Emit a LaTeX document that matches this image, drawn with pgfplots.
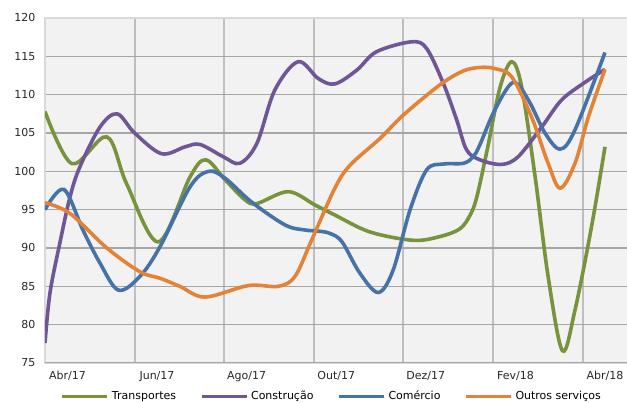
\documentclass[border=0pt]{standalone}
\usepackage{fontspec}
\setmainfont{DejaVu Sans}
\usepackage{pgfplots}
\usepackage{pgfplotstable}
\pgfplotsset{compat=1.18}

\definecolor{cTransp}{RGB}{119,147,60}
\definecolor{cConstr}{RGB}{111,86,150}
\definecolor{cComerc}{RGB}{69,114,167}
\definecolor{cOutros}{RGB}{226,131,56}
\definecolor{plotbg}{RGB}{242,242,242}
\definecolor{gridh}{RGB}{166,166,166}
\definecolor{gridv}{RGB}{191,191,191}
\definecolor{frame}{RGB}{217,217,217}

% x in months (0 = start of Abr/17 band)
\pgfplotstableread{
x y
0.00 107.8
0.60 101.0
1.38 104.5
1.82 98.4
2.53 90.8
3.24 99.3
3.59 101.5
4.02 98.9
4.46 96.3
4.73 95.8
5.43 97.35
6.03 95.6
6.47 94.3
7.25 92.1
8.22 91.0
8.82 91.5
9.26 92.5
9.49 94.3
9.64 96.7
9.87 102.8
10.16 111.0
10.42 114.3
10.64 111.0
10.94 99.3
11.23 86.3
11.55 76.6
11.83 81.9
12.20 92.8
12.50 103.2
}\transportes

\pgfplotstableread{
x y
0.00 77.6
0.11 84.1
0.33 90.6
0.56 96.7
0.78 100.6
1.23 105.8
1.61 107.5
2.00 105.0
2.60 102.3
3.13 103.2
3.46 103.5
3.98 101.9
4.35 101.05
4.73 103.65
5.13 110.6
5.65 114.3
6.10 112.1
6.47 111.4
6.96 113.2
7.40 115.6
8.19 116.9
8.52 116.0
8.89 111.5
9.19 106.7
9.41 102.8
9.71 101.5
10.19 100.9
10.56 101.9
11.09 105.8
11.53 109.3
12.05 111.6
12.50 113.3
}\construcao

\pgfplotstableread{
x y
0.00 95.0
0.42 97.65
0.85 92.3
1.23 88.0
1.64 84.5
2.12 86.3
2.57 90.2
3.24 98.0
3.65 100.0
4.02 99.1
4.61 96.0
5.36 93.0
5.80 92.35
6.10 92.2
6.36 91.9
6.63 90.8
7.03 86.7
7.44 84.2
7.77 87.1
8.15 95.0
8.52 100.2
8.89 100.95
9.34 101.05
9.56 101.9
9.71 103.5
10.04 108.0
10.45 111.6
10.79 109.3
11.16 105.0
11.50 102.9
11.83 105.4
12.50 115.5
}\comercio

\pgfplotstableread{
x y
0.00 95.9
0.56 94.5
1.38 90.0
2.12 86.9
2.57 86.05
3.01 85.0
3.57 83.6
4.54 85.1
5.21 85.0
5.58 86.3
5.95 91.0
6.47 97.8
6.81 100.8
7.48 104.3
8.00 107.35
8.82 111.3
9.34 113.1
9.71 113.55
10.04 113.4
10.42 112.3
10.86 107.1
11.23 101.05
11.50 97.8
11.83 101.05
12.13 107.1
12.50 113.3
}\outros

\begin{document}
\begin{tikzpicture}
\begin{axis}[
  name=ax,
  scale only axis,
  width=591.36pt, height=345pt,
  xmin=0, xmax=13.2,
  ymin=75, ymax=120,
  ytick={75,80,...,120},
  xtick={0.5,2.5,4.5,6.5,8.5,10.5,12.5},
  xticklabels={Abr/17,Jun/17,Ago/17,Out/17,Dez/17,Fev/18,Abr/18},
  minor xtick={2,4,6,8,10,12},
  xminorgrids=true, xmajorgrids=false,
  ymajorgrids=true,
  major grid style={draw=gridh, line width=1.3pt},
  minor grid style={draw=gridv, line width=2pt},
  major tick length=0pt, minor tick length=0pt,
  axis line style={draw=frame, line width=1.5pt},
  axis background/.style={fill=plotbg},
  /pgf/number format/assume math mode=true,
  tick label style={font=\fontsize{11}{13}\selectfont, text=black!85},
  yticklabel style={anchor=east, xshift=-6pt},
  xticklabel style={yshift=-5pt},
  legend columns=4,
  legend style={draw=none, fill=none, inner sep=0pt, outer sep=0pt,
    at={(0.027,-0.0957)}, anchor=west,
    font=\fontsize{11}{13}\selectfont,
    nodes={inner sep=0pt, anchor=west},
    /tikz/every odd column/.append style={column sep=3pt},
    /tikz/every even column/.append style={column sep=24pt}},
  legend image code/.code={\draw[line width=3pt] (0pt,0pt) -- (45pt,0pt);},
  every axis plot/.append style={line width=3.6pt, smooth, tension=0.55, no markers},
]
\addplot[cTransp] table {\transportes};
\addlegendentry{Transportes}
\addplot[cConstr] table {\construcao};
\addlegendentry{Construção}
\addplot[cComerc] table {\comercio};
\addlegendentry{Comércio}
\addplot[cOutros] table {\outros};
\addlegendentry{Outros serviços}
\draw[gridh, line width=1.5pt] (rel axis cs:0,0) -- (rel axis cs:1,0);
\end{axis}
\pgfresetboundingbox
\path[use as bounding box] ([xshift=-45pt,yshift=18pt]ax.north west) rectangle ([xshift=582pt,yshift=-40pt]ax.south west);
\end{tikzpicture}
\end{document}
